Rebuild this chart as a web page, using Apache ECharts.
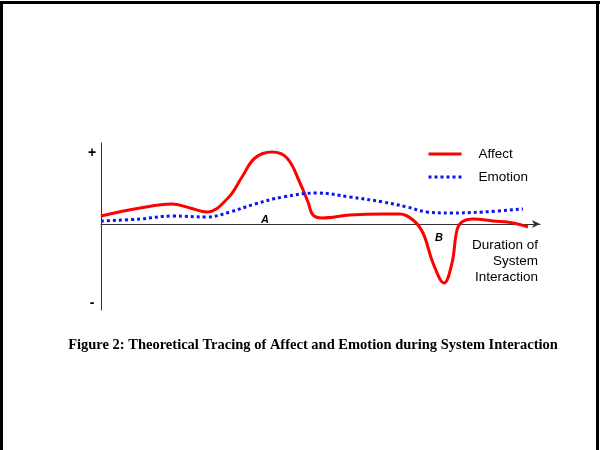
<!DOCTYPE html>
<html>
<head>
<meta charset="utf-8">
<script src="https://cdn.jsdelivr.net/npm/echarts@6/dist/echarts.min.js"></script>
<style>
  html, body { margin: 0; padding: 0; background: #fff; }
  #chart { width: 600px; height: 450px; }
</style>
</head>
<body>
<div id="chart"></div>
<script>
// time along the interaction (arbitrary units), values relative to neutral
var affectTime = [0, 39, 71, 89, 106, 127, 141, 154, 171, 186, 199, 207, 212, 221, 249, 282, 299, 312, 322, 332, 343, 351, 356, 361, 372, 392, 412, 427];
var affectVal  = [8, 16, 20, 16, 12, 26, 47, 66, 72, 66, 41, 22, 9, 6, 9, 10, 10, 4, -9, -39, -59, -39, -6, 2, 5, 3, 1, -3];
var emotionTime = [0, 39, 71, 106, 129, 154, 182, 216, 249, 282, 306, 326, 349, 382, 422];
var emotionVal  = [3, 5, 8, 7, 12, 20, 27, 31, 27, 22, 17, 12, 11, 12, 15];
var seriesNames = ['Affect', 'Emotion'];
var axisEnds = ['+', '-'];

function pairs(xs, ys) {
    return xs.map(function(x, i) { return [x, ys[i]]; });
}

var chart = echarts.init(document.getElementById('chart'));
var option = {
    animation: false,
    backgroundColor: '#fff',
    grid: { left: 101, right: 60, top: 143, bottom: 140 },
    legend: {
        orient: 'vertical',
        left: 427,
        top: 147,
        padding: 0,
        itemWidth: 33,
        itemHeight: 14,
        itemGap: 9,
        data: seriesNames,
        itemStyle: { color: 'transparent', borderWidth: 0 },
        lineStyle: { width: 3 },
        textStyle: { fontFamily: 'Liberation Sans', fontSize: 13.5, color: '#000', padding: [0, 0, 0, 12] }
    },
    xAxis: {
        type: 'value',
        min: 0,
        max: 439,
        axisLine: { show: true, symbol: ['none', 'arrow'], symbolSize: [6, 8], lineStyle: { color: '#333', width: 1 } },
        axisTick: { show: false },
        axisLabel: { show: false },
        splitLine: { show: false }
    },
    yAxis: {
        type: 'value',
        min: -86,
        max: 81,
        axisLine: { show: true, onZero: false, lineStyle: { color: '#333', width: 1 } },
        axisTick: { show: false },
        axisLabel: { show: false },
        splitLine: { show: false }
    },
    series: [
        {
            name: seriesNames[0],
            type: 'line',
            smooth: 0.4,
            showSymbol: false,
            symbol: 'none',
            color: '#ff0000',
            lineStyle: { color: '#ff0000', width: 3 },
            data: pairs(affectTime, affectVal)
        },
        {
            name: seriesNames[1],
            type: 'line',
            smooth: 0.4,
            showSymbol: false,
            symbol: 'none',
            color: '#0a14f0',
            lineStyle: { color: '#0a14f0', width: 3, type: [3, 3] },
            data: pairs(emotionTime, emotionVal)
        }
    ],
    graphic: [
        // page frame
        { type: 'rect', shape: { x: 0, y: 1, width: 600, height: 3 }, style: { fill: '#000' } },
        { type: 'rect', shape: { x: 0, y: 1, width: 3, height: 449 }, style: { fill: '#000' } },
        { type: 'rect', shape: { x: 596, y: 1, width: 3, height: 449 }, style: { fill: '#000' } },
        { type: 'text', x: 92, y: 153, style: { text: axisEnds[0], font: 'bold 14px Liberation Sans', fill: '#000', align: 'center', verticalAlign: 'middle' } },
        { type: 'text', x: 92, y: 303, style: { text: axisEnds[1], font: 'bold 14px Liberation Sans', fill: '#000', align: 'center', verticalAlign: 'middle' } },
        { type: 'text', x: 265, y: 220, style: { text: 'A', font: 'italic bold 11px Liberation Sans', fill: '#000', align: 'center', verticalAlign: 'middle' } },
        { type: 'text', x: 439, y: 238, style: { text: 'B', font: 'italic bold 11px Liberation Sans', fill: '#000', align: 'center', verticalAlign: 'middle' } },
        { type: 'text', x: 538, y: 237, style: { text: 'Duration of\nSystem\nInteraction', font: '13.5px Liberation Sans', lineHeight: 16, fill: '#000', align: 'right', verticalAlign: 'top' } },
        { type: 'text', x: 313, y: 345, style: { text: 'Figure 2: Theoretical Tracing of Affect and Emotion during System Interaction', font: 'bold 14.5px Liberation Serif', fill: '#000', align: 'center', verticalAlign: 'middle' } }
    ]
};
chart.setOption(option);
</script>
</body>
</html>
